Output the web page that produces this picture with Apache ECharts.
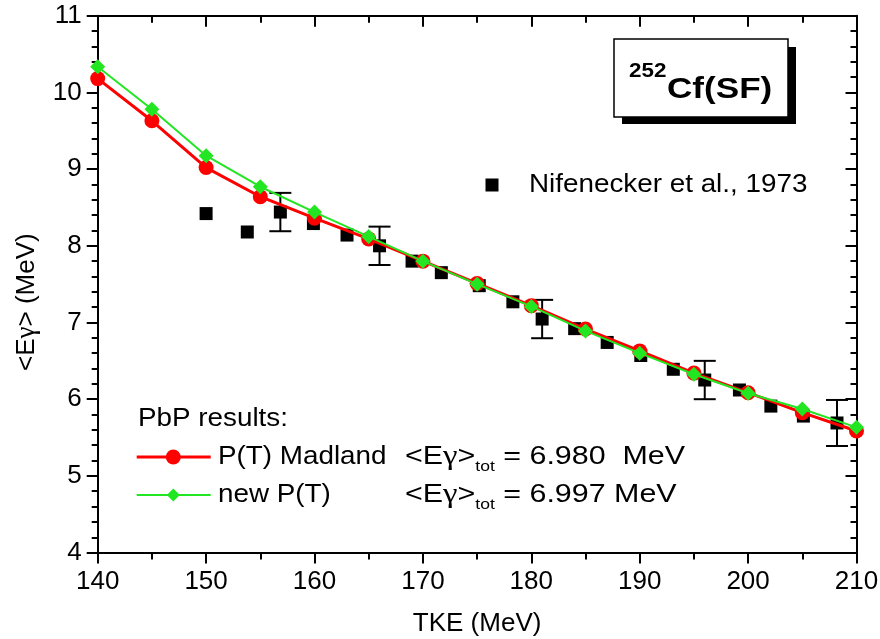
<!DOCTYPE html>
<html>
<head>
<meta charset="utf-8">
<script src="https://cdn.jsdelivr.net/npm/echarts@6/dist/echarts.min.js"></script>
<style>
  html, body { margin: 0; padding: 0; background: #fff; }
  #chart { width: 880px; height: 639px; }
</style>
</head>
<body>
<div id="chart"></div>
<script>
// PbP model: mean prompt gamma energy vs total kinetic energy, 252Cf(SF)
const tke = [140, 145, 150, 155, 160, 165, 170, 175, 180, 185, 190, 195, 200, 205, 210];
const egMadland = [10.18, 9.63, 9.02, 8.64, 8.36, 8.09, 7.80, 7.51, 7.22, 6.915, 6.63, 6.34, 6.085, 5.824, 5.585];
const egNewPT   = [10.335, 9.78, 9.175, 8.77, 8.44, 8.12, 7.80, 7.50, 7.21, 6.89, 6.60, 6.325, 6.077, 5.872, 5.633];

// Nifenecker et al., 1973 measurements
const expTke = [150, 153.8, 156.85, 159.9, 163, 166.0, 169.0, 171.7, 175.2, 178.3, 181.0, 184.0, 187.0, 190.1, 193.1, 196.0, 199.2, 202.1, 205.1, 208.2];
const expEg  = [8.42, 8.18, 8.44, 8.29, 8.14, 8.00, 7.80, 7.65, 7.48, 7.27, 7.045, 6.92, 6.74, 6.57, 6.39, 6.25, 6.12, 5.91, 5.78, 5.69];
const expErr = [0, 0, 0.25, 0, 0, 0.25, 0, 0, 0, 0, 0.25, 0, 0, 0, 0, 0.25, 0, 0, 0, 0.30];

const xTicks = { min: 140, max: 210, step: 10 };
const yTicks = { min: 4, max: 11, step: 1 };

const FONT = 'Liberation Sans, Arial, Helvetica, sans-serif';
const RED = '#ff0000';
const GREEN = '#22e622';

const expPoints = expTke.map((x, i) => [x, expEg[i]]);
const errPoints = expTke.map((x, i) => [x, expEg[i], expErr[i]]).filter(p => p[2] > 0);
const madlandPoints = tke.map((x, i) => [x, egMadland[i]]);
const newPTPoints = tke.map((x, i) => [x, egNewPT[i]]);

const axisLine = { show: true, lineStyle: { color: '#000', width: 2 } };

function xAxisDef(pos, inside, labels) {
  return {
    type: 'value', position: pos, min: xTicks.min, max: xTicks.max, interval: xTicks.step,
    axisLine, splitLine: { show: false },
    axisTick: { show: true, inside, length: 11, lineStyle: { color: '#000', width: 2 } },
    minorTick: { show: true, splitNumber: 2, length: 7, lineStyle: { color: '#000', width: 2 } },
    minorSplitLine: { show: false },
    axisLabel: { show: labels, fontSize: 26, color: '#000', fontFamily: FONT, margin: 16 },
    name: labels ? 'TKE (MeV)' : '',
    nameLocation: 'middle', nameGap: 58,
    nameTextStyle: { fontSize: 26, color: '#000', fontFamily: FONT }
  };
}
function yAxisDef(pos, inside, labels) {
  return {
    type: 'value', position: pos, min: yTicks.min, max: yTicks.max, interval: yTicks.step,
    axisLine, splitLine: { show: false },
    axisTick: { show: true, inside, length: 11, lineStyle: { color: '#000', width: 2 } },
    minorTick: { show: true, splitNumber: 5, length: 6, lineStyle: { color: '#000', width: 2 } },
    minorSplitLine: { show: false },
    axisLabel: { show: labels, fontSize: 26, color: '#000', fontFamily: FONT, margin: 16 },
    name: labels ? '<E{g|γ}> (MeV)' : '',
    nameLocation: 'middle', nameGap: 57, nameRotate: 90,
    nameTextStyle: {
      fontSize: 26, color: '#000', fontFamily: FONT, padding: [0, 36, 0, 0],
      rich: { g: { fontSize: 27, fontFamily: 'Liberation Serif, serif', color: '#000' } }
    }
  };
}

// legend / annotation text
function txt(x, y, text, opts) {
  return Object.assign({
    type: 'text', x, y, scaleX: 1.07, z: 100,
    style: Object.assign({ text, font: '26px ' + FONT, fill: '#000', verticalAlign: 'middle', align: 'left' }, (opts && opts.style) || {})
  }, (opts && opts.el) || {});
}
const richEg = {
  g: { fontFamily: 'Liberation Serif, serif', fontSize: 28, lineHeight: 34 },
  m: { fontFamily: FONT, fontSize: 26, lineHeight: 34 },
  sub: { fontFamily: FONT, fontSize: 15, lineHeight: 14, verticalAlign: 'bottom' }
};
function egTotal(x, y, value) {
  return {
    type: 'text', x, y, scaleX: 1.17, z: 100,
    style: {
      text: '{m|<E}{g|γ}{m|>}{sub|tot}{m| = ' + value + '}',
      rich: richEg, fill: '#000', verticalAlign: 'middle', align: 'left'
    }
  };
}

const chart = echarts.init(document.getElementById('chart'), null, { renderer: 'canvas' });
chart.setOption({
  backgroundColor: '#fff',
  animation: false,
  grid: { left: 97.7, right: 23.5, top: 15.7, bottom: 86.4, outerBoundsMode: 'none' },
  xAxis: [xAxisDef('bottom', false, true), xAxisDef('top', true, false)],
  yAxis: [yAxisDef('left', false, true), yAxisDef('right', true, false)],
  series: [
    {
      name: 'Nifenecker et al., 1973', type: 'scatter', data: expPoints,
      symbol: 'rect', symbolSize: 13, itemStyle: { color: '#000', opacity: 1 }, z: 2
    },
    {
      name: 'errors', type: 'custom', data: errPoints, z: 2,
      encode: { x: 0, y: 1 },
      renderItem(params, api) {
        const x = api.value(0), y = api.value(1), e = api.value(2);
        const hi = api.coord([x, y + e]);
        const lo = api.coord([x, y - e]);
        const cap = 11;
        const style = { stroke: '#000', lineWidth: 2 };
        return {
          type: 'group', children: [
            { type: 'line', shape: { x1: hi[0], y1: hi[1], x2: lo[0], y2: lo[1] }, style },
            { type: 'line', shape: { x1: hi[0] - cap, y1: hi[1], x2: hi[0] + cap, y2: hi[1] }, style },
            { type: 'line', shape: { x1: lo[0] - cap, y1: lo[1], x2: lo[0] + cap, y2: lo[1] }, style }
          ]
        };
      }
    },
    {
      name: 'P(T) Madland', type: 'line', data: madlandPoints, z: 3,
      symbol: 'circle', symbolSize: 15, showAllSymbol: true,
      lineStyle: { color: RED, width: 3 }, itemStyle: { color: RED }
    },
    {
      name: 'new P(T)', type: 'line', data: newPTPoints, z: 4,
      symbol: 'diamond', symbolSize: 15, showAllSymbol: true,
      lineStyle: { color: GREEN, width: 2 }, itemStyle: { color: GREEN }
    }
  ],
  graphic: [
    // nuclide label box with drop shadow
    { type: 'rect', shape: { x: 622, y: 47, width: 174, height: 77 }, style: { fill: '#000' }, z: 90 },
    { type: 'rect', shape: { x: 614, y: 39, width: 174, height: 78 }, style: { fill: '#fff', stroke: '#000', lineWidth: 1.5 }, z: 91 },
    Object.assign(txt(629, 71, '252', { style: { font: 'bold 20px ' + FONT } }), { scaleX: 1.12 }),
    Object.assign(txt(667, 90, 'Cf(SF)', { style: { font: 'bold 30px ' + FONT } }), { scaleX: 1.17 }),

    // experimental data legend
    { type: 'rect', shape: { x: 485.5, y: 178.5, width: 13, height: 13 }, style: { fill: '#000' }, z: 100 },
    txt(529, 185, 'Nifenecker et al., 1973'),

    // model legend
    txt(138, 419, 'PbP results:'),
    { type: 'line', shape: { x1: 136.7, y1: 457, x2: 210.7, y2: 457 }, style: { stroke: RED, lineWidth: 3 }, z: 100 },
    { type: 'circle', shape: { cx: 173.3, cy: 457, r: 7.5 }, style: { fill: RED }, z: 100 },
    txt(218, 457, 'P(T) Madland'),
    egTotal(405, 457, '6.980  MeV'),
    { type: 'line', shape: { x1: 136.7, y1: 495, x2: 210.7, y2: 495 }, style: { stroke: GREEN, lineWidth: 2 }, z: 100 },
    { type: 'polygon', shape: { points: [[173.3, 488.5], [179.8, 495], [173.3, 501.5], [166.8, 495]] }, style: { fill: GREEN }, z: 100 },
    txt(218, 495, 'new P(T)'),
    egTotal(405, 495, '6.997 MeV')
  ]
});
</script>
</body>
</html>
